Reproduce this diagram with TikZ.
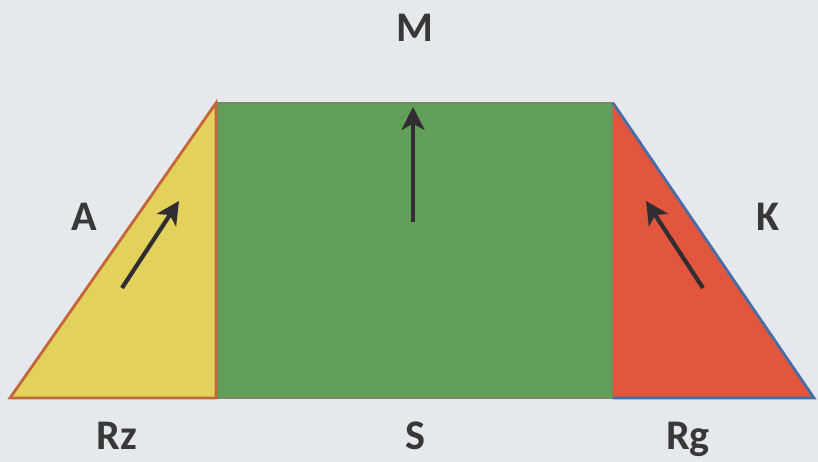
\documentclass[tikz,border=0pt]{standalone}
\usepackage{fontspec}
\setmainfont{Carlito}
\usepackage{tikz}
\usetikzlibrary{arrows.meta,calc}
\definecolor{pagebg}{RGB}{229,232,237}
\definecolor{zoneyel}{RGB}{226,210,92}
\definecolor{zonegreen}{RGB}{96,158,90}
\definecolor{zonered}{RGB}{225,86,60}
\definecolor{edgebrown}{RGB}{196,102,58}
\definecolor{edgeblue}{RGB}{72,110,168}
\definecolor{edgegreen}{RGB}{120,135,100}
\definecolor{arrowgrey}{RGB}{50,45,50}
\tikzset{
  zonelabel/.style={
    anchor=base,
    inner sep=0pt,
    font=\fontsize{24}{28}\selectfont\bfseries,
    text=black!78
  },
  flow/.style={
    line width=2.4pt,
    draw=arrowgrey,
    -{Stealth[length=13pt,width=13pt,inset=3.5pt]}
  },
  leftzone/.style={
    fill=zoneyel,
    draw=edgebrown,
    line width=1.6pt,
    line join=miter
  },
  midzone/.style={
    fill=zonegreen,
    draw=edgegreen,
    line width=0.7pt
  },
  rightzone/.style={
    fill=zonered
  },
  rightedge/.style={
    draw=edgeblue,
    line width=1.6pt
  }
}

\begin{document}
\begin{tikzpicture}
  \useasboundingbox (0,0) rectangle (16.36,9.24);
  \fill[pagebg] (0,0) rectangle (16.36,9.24);

  % ------------------------------------------------------------------
  % corners of the profile
  % ------------------------------------------------------------------
  \coordinate (lb) at (0.20,1.28);
  \coordinate (lt) at (4.32,7.18);
  \coordinate (lf) at (4.32,1.28);
  \coordinate (rt) at (12.26,7.18);
  \coordinate (rf) at (12.26,1.28);
  \coordinate (rb) at (16.28,1.28);

  % ------------------------------------------------------------------
  % zones
  % ------------------------------------------------------------------
  \draw[midzone] (lf) rectangle (rt);
  \fill[rightzone] (rf) -- (rt) -- (rb) -- cycle;
  \draw[rightedge] (rt) -- (rb) -- (rf);
  \draw[leftzone] (lb) -- (lt) -- (lf) -- cycle;

  % ------------------------------------------------------------------
  % arrows
  % ------------------------------------------------------------------
  \coordinate (a0) at (2.44,3.48);
  \coordinate (a1) at (3.58,5.22);
  \coordinate (m0) at (8.26,4.80);
  \coordinate (m1) at (8.26,7.10);
  \coordinate (k0) at (14.06,3.48);
  \coordinate (k1) at (12.92,5.22);

  \draw[flow] (a0) -- (a1);
  \draw[flow] (m0) -- (m1);
  \draw[flow] (k0) -- (k1);

  % ------------------------------------------------------------------
  % labels
  % ------------------------------------------------------------------
  \node[zonelabel] (labM)  at (8.30,8.40)  {M};
  \node[zonelabel] (labA)  at (1.68,4.62)  {A};
  \node[zonelabel] (labK)  at (15.36,4.62) {K};
  \node[zonelabel] (labRz) at (2.34,0.24)  {Rz};
  \node[zonelabel] (labS)  at (8.30,0.24)  {S};
  \node[zonelabel] (labRg) at (13.76,0.24) {Rg};
\end{tikzpicture}
\end{document}
